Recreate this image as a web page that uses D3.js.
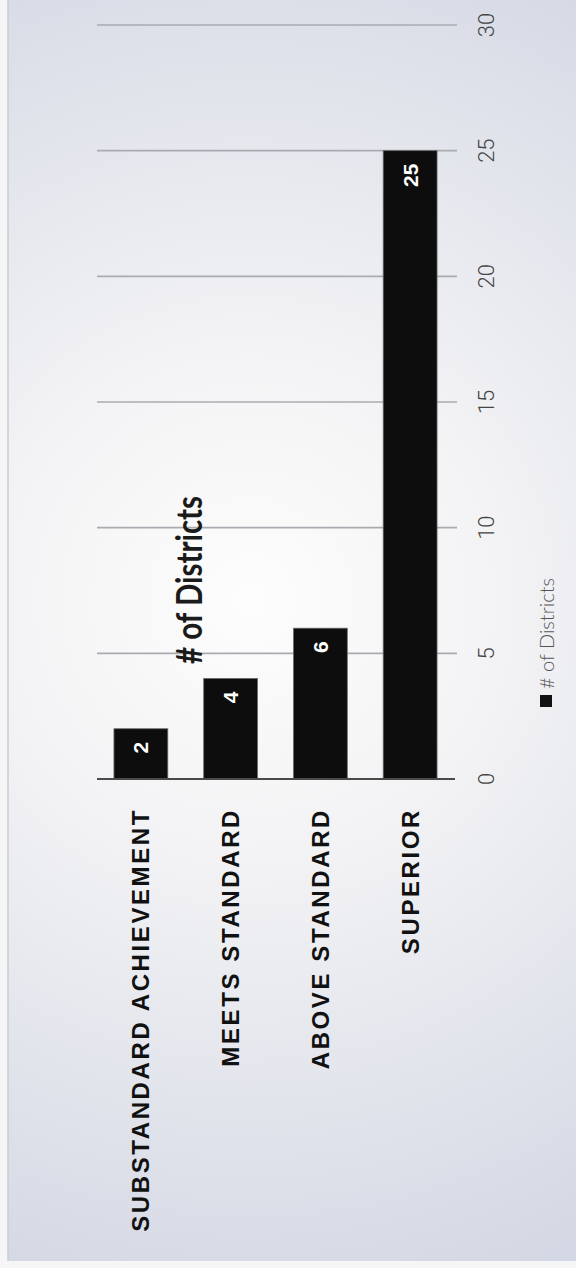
<!DOCTYPE html>
<html><head><meta charset="utf-8">
<script src="https://cdn.jsdelivr.net/npm/d3@7"></script>
<style>html,body{margin:0;padding:0;background:#fff;}svg{display:block;}</style>
</head><body>
<script>
const categories = ["SUBSTANDARD ACHIEVEMENT", "MEETS STANDARD", "ABOVE STANDARD", "SUPERIOR"];
const values = [2, 4, 6, 25];
const tickValues = [0, 5, 10, 15, 20, 25, 30];
const titleText = "# of Districts";
const legendLabel = "# of Districts";

const W = 576, H = 1268;
const svg = d3.select("body").append("svg").attr("width", W).attr("height", H);
const defs = svg.append("defs");
const rg = defs.append("radialGradient").attr("id", "bg")
  .attr("gradientUnits", "userSpaceOnUse").attr("cx", 250).attr("cy", 600).attr("r", 720);
rg.append("stop").attr("offset", "0").attr("stop-color", "#fdfdfd");
rg.append("stop").attr("offset", "0.35").attr("stop-color", "#f3f3f5");
rg.append("stop").attr("offset", "1").attr("stop-color", "#d4d8e4");

svg.append("rect").attr("width", W).attr("height", H).attr("fill", "#f6f6f7");
svg.append("rect").attr("x", 8).attr("y", 0).attr("width", W - 8).attr("height", H - 7).attr("fill", "url(#bg)");
svg.append("line").attr("x1", 8).attr("x2", 8).attr("y1", 0).attr("y2", H - 7)
  .attr("stroke", "#c8ccd4").attr("stroke-width", 1.5);

const y = d3.scaleLinear().domain([0, 30]).range([779, 25]);
const x = d3.scaleBand().domain(categories).range([96, 455]).paddingInner(0.4).paddingOuter(0.2);

// gridlines
svg.append("g").selectAll("line").data(tickValues.filter(d => d > 0)).join("line")
  .attr("x1", 97).attr("x2", 457)
  .attr("y1", d => y(d)).attr("y2", d => y(d))
  .attr("stroke", "#a9abb0").attr("stroke-width", 1.6);

// bars
svg.append("g").selectAll("rect").data(values).join("rect")
  .attr("x", (d, i) => x(categories[i]))
  .attr("y", d => y(d))
  .attr("width", x.bandwidth())
  .attr("height", d => y(0) - y(d))
  .attr("fill", "#0d0d0d").attr("stroke", "#6a6a6a").attr("stroke-width", 0.8);

// baseline axis
svg.append("line").attr("x1", 97).attr("x2", 455).attr("y1", y(0)).attr("y2", y(0))
  .attr("stroke", "#4a4a4a").attr("stroke-width", 2.2);

// value labels
svg.append("g").selectAll("text").data(values).join("text")
  .attr("transform", (d, i) => `translate(${x(categories[i]) + x.bandwidth() / 2},${y(d) + 13}) rotate(-90)`)
  .attr("text-anchor", "end").attr("dominant-baseline", "central")
  .attr("font-family", "'Liberation Sans', Arial, sans-serif").attr("font-weight", "bold")
  .attr("font-size", 21).attr("fill", "#fff")
  .text(d => d);

// tick labels
svg.append("g").selectAll("text").data(tickValues).join("text")
  .attr("transform", d => `translate(486,${y(d)}) rotate(-90)`)
  .attr("text-anchor", "middle").attr("dominant-baseline", "central")
  .attr("font-family", "'Liberation Sans Narrow', Roboto, sans-serif").attr("font-weight", 300)
  .attr("font-size", 22).attr("fill", "#444")
  .text(d => d);

// category labels
svg.append("g").selectAll("text").data(categories).join("text")
  .attr("transform", d => `translate(${x(d) + x.bandwidth() / 2},808) rotate(-90)`)
  .attr("text-anchor", "end").attr("dominant-baseline", "central")
  .attr("font-family", "'Liberation Sans', Arial, sans-serif").attr("font-weight", "bold")
  .attr("font-size", 24).attr("letter-spacing", "2.6px").attr("fill", "#111")
  .text(d => d);

// title
svg.append("text").attr("transform", "translate(202,580) rotate(-90)")
  .attr("text-anchor", "middle")
  .attr("font-family", "Lato, 'Open Sans', sans-serif").attr("font-weight", 700)
  .attr("font-size", 37).attr("fill", "#1a1a1a")
  .attr("textLength", 168).attr("lengthAdjust", "spacingAndGlyphs")
  .text(titleText);

// legend
svg.append("rect").attr("x", 540).attr("y", 695).attr("width", 12).attr("height", 12).attr("fill", "#111");
svg.append("text").attr("transform", "translate(554,689) rotate(-90)")
  .attr("text-anchor", "start")
  .attr("font-family", "Lato, 'Open Sans', sans-serif").attr("font-weight", 300)
  .attr("font-size", 20).attr("fill", "#555")
  .text(legendLabel);
</script>
</body></html>
